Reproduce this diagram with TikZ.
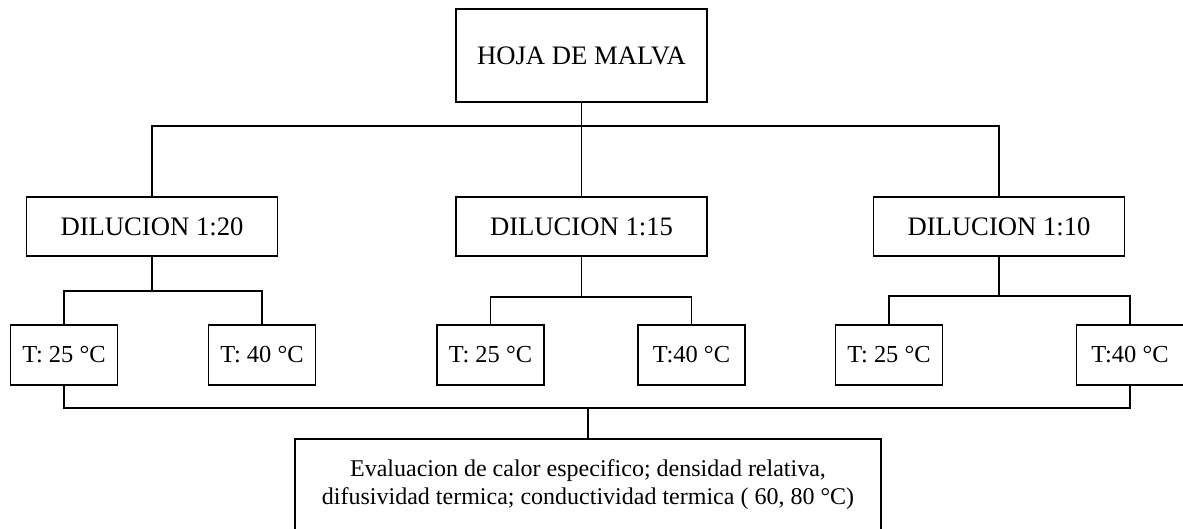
\documentclass[tikz,border=0pt]{standalone}
\usepackage{fontspec}
\setmainfont{Liberation Serif}

\def\px{0.45pt}

\begin{document}
\begin{tikzpicture}[x=\px,y=-\px,line width=0.6pt,
  caja/.style={draw,inner sep=0pt,align=center,font=\fontsize{12}{12.6}\selectfont},
  hojabox/.style={caja,minimum width=251*\px,minimum height=93*\px},
  dilbox/.style={caja,minimum width=251*\px,minimum height=59*\px},
  tbox/.style={caja,minimum width=107*\px,minimum height=60*\px,font=\fontsize{11}{12.6}\selectfont},
  evalbox/.style={caja,minimum width=586*\px,minimum height=92*\px,font=\fontsize{10.8}{12.6}\selectfont}]
  \useasboundingbox (0,0) rectangle (1183,529);

  \node[hojabox] (hoja) at (581.5,55.5) {HOJA DE MALVA};

  \node[dilbox] (d20) at (152,226.5) {DILUCION 1:20};
  \node[dilbox] (d15) at (581.5,226.5) {DILUCION 1:15};
  \node[dilbox] (d10) at (999,226.5) {DILUCION 1:10};

  \node[tbox] (t20a) at (64,355) {T: 25 °C};
  \node[tbox] (t20b) at (262,355) {T: 40 °C};
  \node[tbox] (t15a) at (490.5,355) {T: 25 °C};
  \node[tbox] (t15b) at (691.5,355) {T:40 °C};
  \node[tbox] (t10a) at (889,355) {T: 25 °C};
  \node[tbox] (t10b) at (1130,355) {T:40 °C};

  \node[evalbox] (eval) at (588,485) {Evaluacion de calor especifico; densidad relativa,\\
    difusividad termica; conductividad termica ( 60, 80 °C)};

  \coordinate (bus) at (581.5,126);
  \coordinate (s20) at (152,291);
  \coordinate (s15) at (581.5,297);
  \coordinate (s10) at (999,296);
  \coordinate (fin) at (588,408);

  \draw (hoja) -- (d15);
  \draw (d20.north) |- (bus) -| (d10.north);

  \draw (d20) -- (s20);
  \draw (t20a.north) |- (s20) -| (t20b.north);
  \draw (d15) -- (s15);
  \draw (t15a.north) |- (s15) -| (t15b.north);
  \draw (d10) -- (s10);
  \draw (t10a.north) |- (s10) -| (t10b.north);

  \draw (t20a.south) |- (fin) -| (t10b.south);
  \draw (fin) -- (eval);

\end{tikzpicture}
\end{document}
